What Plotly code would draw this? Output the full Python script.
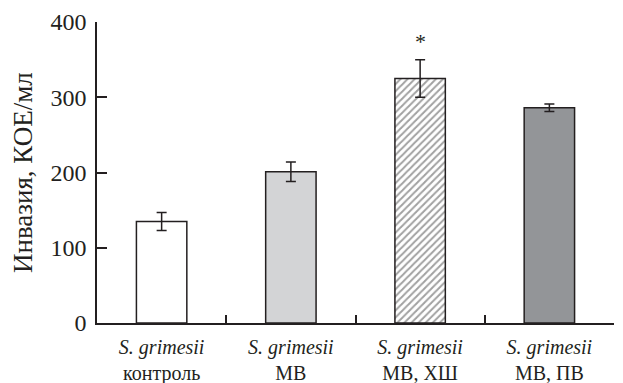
import plotly.graph_objects as go

species = ["S. grimesii"] * 4
conditions = ["контроль", "МВ", "МВ, ХШ", "МВ, ПВ"]
values = [135, 201, 325, 286]
errors = [12, 13, 25, 5]
significance = ["", "", "*", ""]
y_ticks = [0, 100, 200, 300, 400]
y_title = "Инвазия, КОЕ/мл"

fills = ["#ffffff", "#d3d4d6", "#ffffff", "#939598"]
patterns = ["", "", "/", ""]
ink = "#231f20"
serif = "Liberation Serif"

cats = [f"<i>{s}</i><br>{c}" for s, c in zip(species, conditions)]

fig = go.Figure()
fig.add_trace(go.Bar(
    x=cats, y=values,
    marker=dict(color=fills, line=dict(color=ink, width=1.5),
                pattern=dict(shape=patterns, fgcolor="#000000", bgcolor="#ffffff",
                             size=5, solidity=0.4, fillmode="overlay")),
    error_y=dict(type="data", array=errors, color=ink, thickness=1.5, width=5),
    width=0.39,
))

for c, v, e, s in zip(cats, values, errors, significance):
    if s:
        fig.add_annotation(x=c, y=v + e, text=s, showarrow=False, yshift=18,
                           font=dict(family=serif, size=22, color=ink))

fig.add_annotation(xref="paper", yref="paper", x=-0.144, y=0.5, text=y_title,
                   textangle=-90, showarrow=False, xanchor="center", yanchor="middle",
                   font=dict(family=serif, size=27, color=ink))

fig.update_layout(
    width=623, height=383,
    margin=dict(l=97, r=9, t=22, b=60),
    plot_bgcolor="white", paper_bgcolor="white",
    showlegend=False,
    font=dict(family=serif, color=ink),
)
fig.update_xaxes(
    type="category", showline=True, linecolor=ink, linewidth=1.5,
    ticks="inside", tickson="boundaries", ticklen=8, tickcolor=ink, tickwidth=1.5,
    tickfont=dict(family=serif, size=20, color=ink), showgrid=False,
    ticklabelstandoff=5, automargin=False,
)
fig.update_yaxes(
    range=[0, 400], tickvals=y_ticks, showline=True, linecolor=ink, linewidth=1.5,
    ticks="inside", ticklen=10, tickcolor=ink, tickwidth=1.5,
    tickfont=dict(family=serif, size=24, color=ink), showgrid=False, zeroline=False,
    ticklabelstandoff=4, automargin=False,
)

fig.write_html("out.html", config={"displayModeBar": False},
               post_script="document.body.style.margin='0';")
